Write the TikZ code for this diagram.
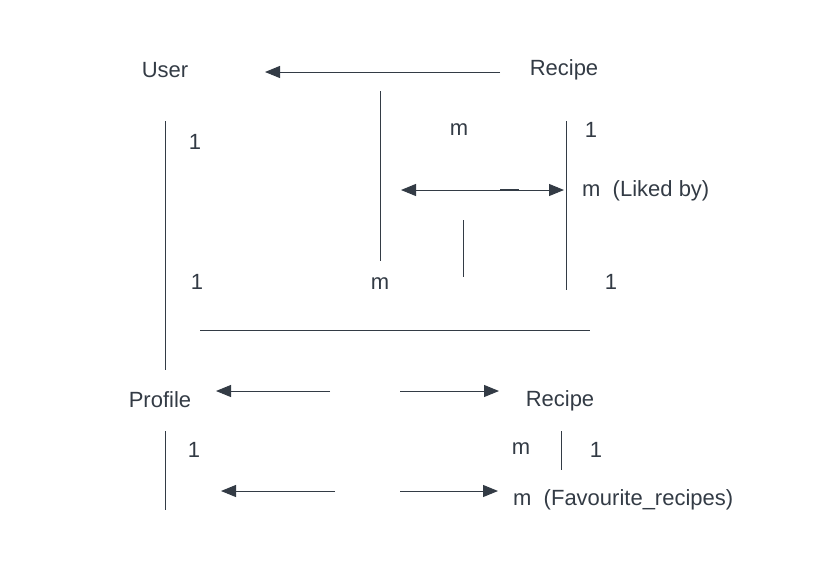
\documentclass[tikz,border=0pt]{standalone}
\usepackage{fontspec}
\setmainfont{Liberation Sans}
\usetikzlibrary{arrows.meta}
\definecolor{ink}{HTML}{333B45}

\begin{document}
\begin{tikzpicture}[x=1pt,y=-1pt,
    lbl/.style={text=ink,font=\fontsize{22}{26}\selectfont,inner sep=0pt,yshift=-2pt},
    rel/.style={draw=ink,line width=1pt},
    tip/.style={-{Triangle[length=15pt,width=12pt]}}]
        \useasboundingbox (0,0) rectangle (820,571); % page size
        % entities
        \node[lbl] (user) at (165,68) {User};
        \node[lbl] (recipeA) at (564,68) {Recipe};
        \node[lbl] (profile) at (160,398) {Profile};
        \node[lbl] (recipeB) at (560,399) {Recipe};
        % cardinalities
        \node[lbl] (c1) at (195,140) {1};
        \node[lbl] (c2) at (459,128) {m};
        \node[lbl] (c3) at (591,128) {1};
        \node[lbl,anchor=west] (liked) at (582,189) {m\ \ (Liked by)};
        \node[lbl] (c4) at (197,280) {1};
        \node[lbl] (c5) at (380,282) {m};
        \node[lbl] (c6) at (611,280) {1};
        \node[lbl] (c7) at (194,448) {1};
        \node[lbl] (c8) at (521,447) {m};
        \node[lbl] (c9) at (596,448) {1};
        \node[lbl,anchor=west] (fav) at (513,498) {m\ \ (Favourite\_recipes)};
        % line ends
        \coordinate (a1) at (500,72); \coordinate (a2) at (265,72);
        \coordinate (u1) at (165,121); \coordinate (u2) at (165,370);
        \coordinate (m1) at (380,91); \coordinate (m2) at (380,261);
        \coordinate (r1) at (566,121); \coordinate (r2) at (566,290);
        \coordinate (l1) at (401,190); \coordinate (l2) at (564,190);
        \coordinate (d1) at (500,190); \coordinate (d2) at (519,190);
        \coordinate (s1) at (463,220); \coordinate (s2) at (463,277);
        \coordinate (h1) at (200,330); \coordinate (h2) at (590,330);
        \coordinate (p1) at (330,391); \coordinate (p2) at (216,391);
        \coordinate (q1) at (400,391); \coordinate (q2) at (499,391);
        \coordinate (v1) at (165,431); \coordinate (v2) at (165,510);
        \coordinate (w1) at (561,431); \coordinate (w2) at (561,470);
        \coordinate (f1) at (335,491); \coordinate (f2) at (221,491);
        \coordinate (g1) at (400,491); \coordinate (g2) at (498,491);
        % connectors
        \draw[rel,tip] (a1) -- (a2);
        \draw[rel] (u1) -- (u2);
        \draw[rel] (m1) -- (m2);
        \draw[rel] (r1) -- (r2);
        \draw[rel,{Triangle[length=15pt,width=12pt]}-{Triangle[length=15pt,width=12pt]}] (l1) -- (l2);
        \draw[rel,line width=1.2pt] (d1) -- (d2); % little overlap on the arrow
        \draw[rel] (s1) -- (s2);
        \draw[rel] (h1) -- (h2);
        \draw[rel,tip] (p1) -- (p2);
        \draw[rel,tip] (q1) -- (q2);
        \draw[rel] (v1) -- (v2);
        \draw[rel] (w1) -- (w2);
        \draw[rel,tip] (f1) -- (f2);
        \draw[rel,tip] (g1) -- (g2);
\end{tikzpicture}
\end{document}
